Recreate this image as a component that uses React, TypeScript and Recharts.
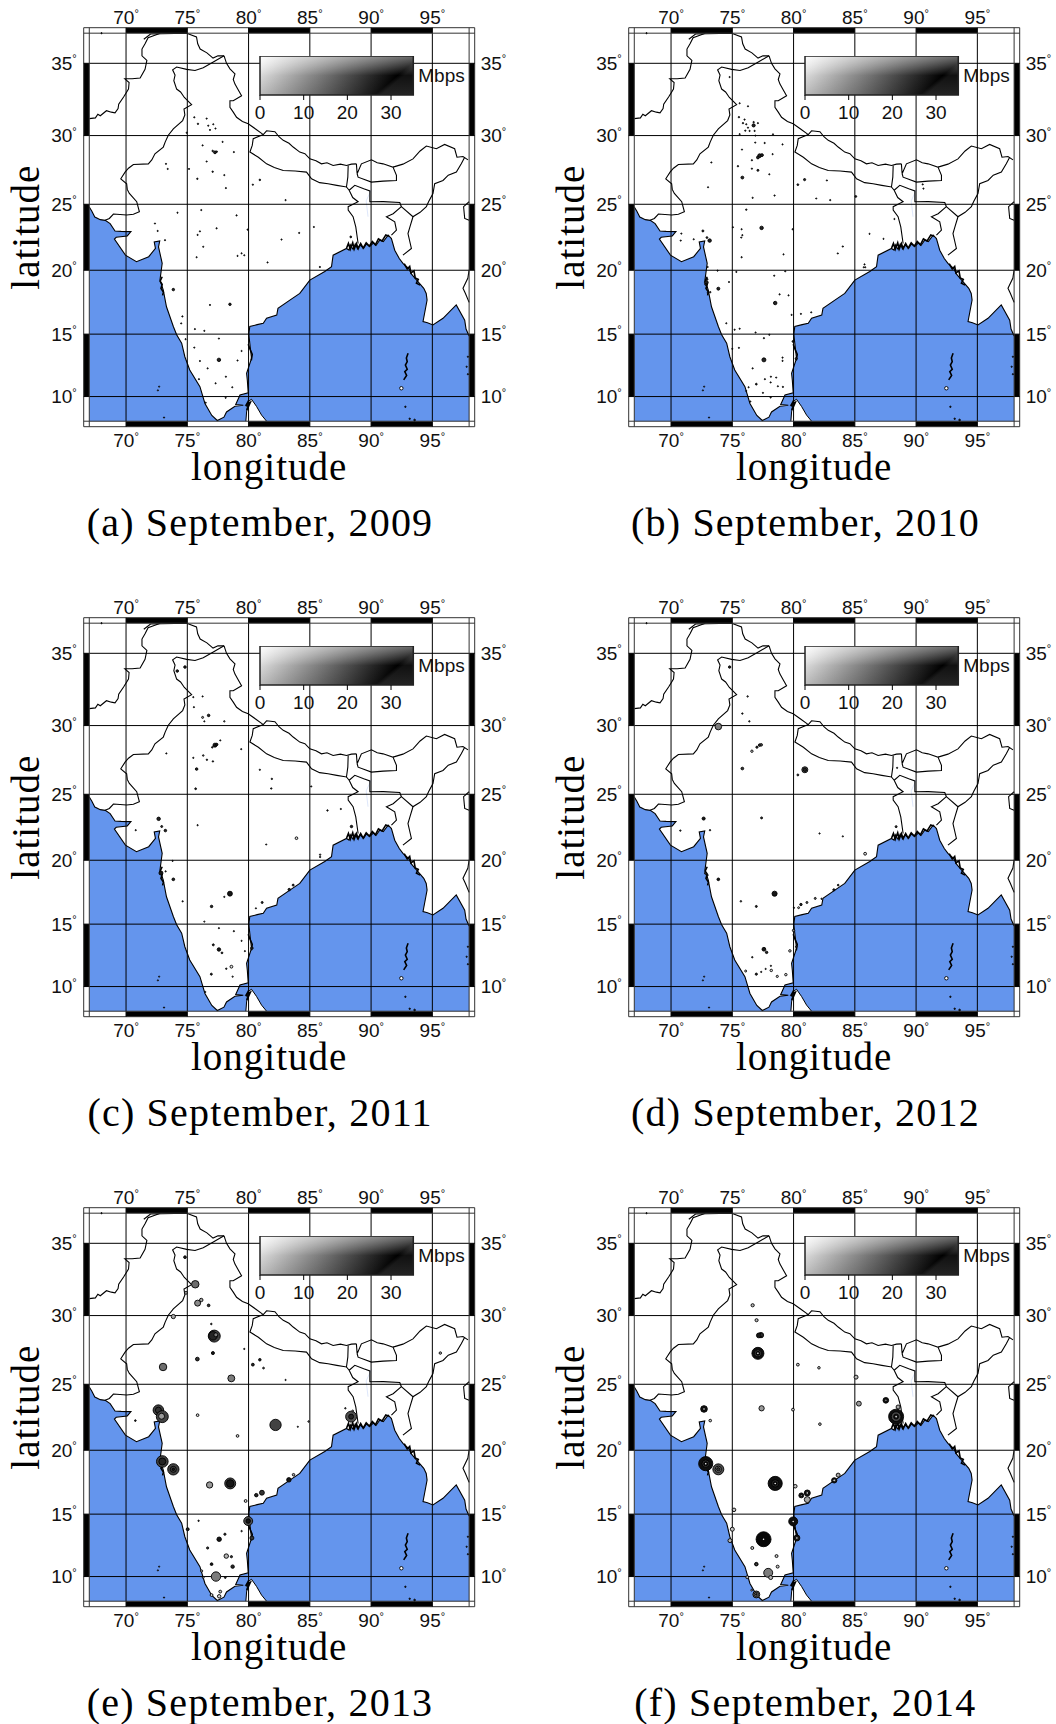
import React from 'react';
import {
  Area,
  ComposedChart,
  Line,
  ReferenceArea,
  ReferenceLine,
  Scatter,
  XAxis,
  YAxis
} from 'recharts';

type Pt = [number, number];
// lon, lat, tests, mean Mbps
type Site = [number, number, number, number];

const LON_TICKS = [70, 75, 80, 85, 90, 95];
const LAT_TICKS = [10, 15, 20, 25, 30, 35];
const LON_BLACK = [[70, 75], [80, 85], [90, 95]];
const LAT_BLACK = [[10, 15], [20, 25], [30, 35]];
const MBPS_TICKS = [0, 10, 20, 30];
const MBPS_RANGE = [{ mbps: 0, v: 0 }, { mbps: 35, v: 1 }];
const CAPTIONS = [
  '(a) September, 2009',
  '(b) September, 2010',
  '(c) September, 2011',
  '(d) September, 2012',
  '(e) September, 2013',
  '(f) September, 2014'
];

// west coast, round the cape, east coast up to Burma
const coast: Pt[] = [
  [67, 24.8], [67.2, 24.5], [67.45, 24.05], [67.9, 23.85], [68.3, 23.8], [68.7, 23.55], [69.1, 23.0], [69.6, 22.97], [70.4, 22.95],
  [70.1, 22.62], [69.2, 22.52], [69.05, 22.38], [69.95, 21.16], [70.85, 20.66], [71.85, 21.04], [72.4, 21.67], [72.3, 22.17],
  [72.75, 22.25], [72.65, 21.79], [72.95, 20.53], [72.77, 19.25], [73.04, 18.46], [73.3, 17.16], [73.86, 15.6], [74.13, 14.95],
  [74.54, 14.28], [74.8, 13.2], [75.2, 12.14], [76.03, 10.8], [76.44, 9.44], [77, 8.47], [77.45, 8.06], [77.99, 8.33],
  [78.2, 8.75], [78.89, 9.22], [79.57, 9.3], [78.95, 9.35], [79.3, 10.13], [79.97, 10.3], [79.9, 11.3], [79.84, 11.87],
  [80.24, 13.07], [80.1, 14.28], [80.02, 15], [80.1, 15.6], [80.7, 15.75], [81.2, 15.86], [81.47, 16.25], [82.3, 16.5], [82.4, 17.03],
  [83.37, 17.68], [84.18, 18.2], [85, 19.24], [86.22, 19.9], [86.77, 20.28], [86.9, 21.16], [87.99, 21.67], [88.2, 21.55],
  [88.3, 21.95], [88.53, 21.6], [88.7, 22], [88.9, 21.65], [89.08, 21.95], [89.4, 21.7], [89.6, 22], [89.9, 21.83],
  [90.2, 22.1], [90.4, 21.9], [90.7, 22.3], [91, 22.2], [91.39, 22.68], [91.66, 22.42], [91.93, 21.54], [92.3, 20.9],
  [92.6, 20.53], [93.1, 20.1], [93.3, 19.7], [93.7, 19.25], [94.3, 18.6], [94.5, 18.2], [94.57, 17.68], [94.24, 16],
  [94.6, 15.9], [95.05, 15.73], [95.87, 16.25], [96.95, 17.3], [97.64, 16.1], [97.75, 15.4], [98, 14.85]
];
const seaCorners: Pt[] = [[67, 8], [67, 24.8]];
const seaEnd: Pt[] = [[98, 14.85], [98, 8]];
const sriLanka: Pt[] = [[79.78, 8], [79.84, 8.75], [79.97, 9.6], [80.24, 9.78], [80.65, 9.2], [81.06, 8.5], [81.47, 8]];
const andaman: Pt[] = [[93.02, 13.48], [92.88, 13.1], [92.95, 12.8], [92.8, 12.54], [92.95, 12.2], [92.75, 12], [92.9, 11.7], [92.66, 11.34]];
// the ragged bits of shore that read as heavy black in the maps
const raggedShore: Pt[][] = [
  [[88, 21.7], [88.15, 22.05], [88.3, 21.6], [88.5, 22.1], [88.62, 21.62], [88.8, 22.05], [88.95, 21.65], [89.15, 22.05], [89.35, 21.7], [89.6, 22.1], [89.85, 21.85], [90.1, 22.2], [90.35, 21.95], [90.6, 22.4], [90.9, 22.25], [91.2, 22.7], [91.45, 22.6]],
  [[92.7, 20.5], [92.95, 20.1], [93.15, 20.3], [93.25, 19.8], [93.5, 19.95], [93.6, 19.4], [93.85, 19.3], [93.7, 19], [94, 18.85]],
  [[72.95, 19.5], [72.78, 19.15], [72.95, 18.9], [72.85, 18.6], [73.05, 18.3], [72.98, 18.05]],
  [[79.8, 9.2], [80, 9.65], [79.85, 9.4], [80.15, 9.55], [79.95, 9.1], [79.85, 8.9]],
  [[79.97, 14.2], [80.12, 13.8], [80.3, 13.4], [80.22, 12.9]]
];
const islets: Site[] = [
  [92.47, 10.67, 3, 0], [92.8, 9.17, 0.5, 30], [93.15, 8.2, 0.5, 30], [93.55, 8.1, 0.7, 30], [73.1, 8.3, 0.3, 30],
  [72.7, 10.8, 0.1, 20], [72.6, 10.5, 0.1, 20], [97.8, 12.4, 0.2, 30], [97.9, 11.8, 0.2, 30], [97.9, 13.2, 0.2, 30], [68, 37, 0.3, 30]
];

const borders: Pt[][] = [
  // afghanistan side and the north
  [[67, 31.2], [67.5, 31.25], [67.7, 31.5], [67.9, 31.4], [68.4, 31.75], [68.8, 31.65], [69.1, 31.6], [69.35, 31.9], [69.4, 32.2], [69.8, 32.7], [70.2, 33.25], [70.25, 33.7], [69.9, 33.95], [70.5, 33.95], [71.15, 34], [71.55, 34.6], [71.7, 35.2], [71.3, 35.5], [71.3, 35.95], [71.55, 36.3], [71.8, 36.7], [72.8, 37]],
  [[71.45, 36.6], [72, 36.95], [74.95, 37], [75.75, 36.75], [75.85, 36.3], [76.05, 35.95], [76.6, 35.7], [77.1, 35.35], [77.5, 35.5], [78, 35.5]],
  // india - pakistan
  [[78, 35.5], [77.12, 35.09], [76.3, 34.7], [75.63, 34.52], [74.95, 34.59], [74.13, 34.75], [73.8, 34.56], [74, 34.2], [73.9, 33.82], [74.13, 33.25], [74.45, 33.05], [74.76, 32.67], [75.35, 32.17], [74.73, 31.87], [74.8, 31.45], [74.62, 31.06], [73.86, 30.48], [73.45, 30.02], [73.2, 29.55], [73.04, 29.18], [72.36, 28.7], [72.1, 28.25], [71.82, 27.97], [70.6, 27.92], [70.2, 27.65], [69.92, 27.37], [69.57, 26.88], [70.05, 26.52], [70.1, 26.1], [70.27, 25.8], [70.87, 25.19], [71.09, 24.44], [70.6, 24.25], [70.05, 24.2], [68.97, 24.27], [68.64, 23.94], [68.29, 23.8]],
  // tibet side to sikkim
  [[78, 35.5], [78.2, 35], [78.48, 34.63], [78.89, 34.29], [78.75, 33.9], [78.89, 33.59], [79.15, 33.2], [79.43, 32.79], [78.75, 32.44], [78.48, 32.44], [78.48, 31.98], [78.75, 31.65], [79.02, 31.29], [79.5, 31], [79.97, 30.83], [80.6, 30.45], [81.2, 30.07], [81.47, 30.34], [82.15, 30.27], [82.5, 29.9], [82.83, 29.66], [83.3, 29.45], [83.64, 29.18], [84.18, 28.82], [84.6, 28.7], [85, 28.33], [85.5, 28.2], [85.95, 27.97], [86.4, 28.05], [86.9, 27.85], [87.5, 27.95], [87.99, 27.85], [88.4, 27.95], [88.8, 27.97]],
  // nepal south
  [[81.2, 30.07], [80.38, 29.78], [80.3, 29.3], [80.11, 28.82], [80.8, 28.45], [81.47, 27.97], [82.1, 27.7], [82.83, 27.49], [83.8, 27.45], [84.73, 27.37], [85.14, 26.88], [85.8, 26.6], [86.49, 26.52], [87.2, 26.4], [87.99, 26.28], [88.1, 27], [88.13, 27.85]],
  // bhutan
  [[88.8, 27.97], [88.86, 27.25], [89.21, 27.97], [90.03, 28.26], [90.5, 28.05], [90.98, 27.97], [91.79, 27.73], [92.07, 27.13], [92.07, 26.76], [90.98, 26.71], [90.03, 26.64], [88.94, 27], [88.86, 27.25]],
  // north east
  [[91.79, 27.73], [92.6, 27.95], [93.42, 28.33], [94, 28.9], [94.51, 29.25], [95.33, 29.06], [96, 29.37], [96.82, 29.06], [97.01, 28.45], [97.5, 28.5], [97.91, 28.26]],
  [[97.64, 28.45], [97.36, 27.97], [96.96, 27.37], [96.3, 27.15], [95.87, 26.76], [95.19, 26.52], [95.05, 25.8], [94.7, 25.2], [94.51, 24.82], [94, 24.4], [93.42, 24.07], [93.2, 23.4], [93.01, 22.8], [93.29, 21.67], [92.6, 21.16]],
  // bangladesh
  [[88.94, 22.05], [88.75, 23.31], [88.53, 24.07], [88.13, 24.57], [88.13, 24.82], [88.94, 25.19], [88.5, 25.5], [88.21, 26.04], [87.99, 26.28]],
  [[88.21, 26.04], [88.67, 26.4], [89.4, 26.15], [89.9, 25.99], [89.9, 25.19], [91, 25.2], [92.34, 25.13], [92.47, 24.82], [91.8, 24.3], [91.25, 24.07], [91.93, 23.69], [92.07, 23.06], [91.66, 22.68]],
  [[92.47, 24.82], [93.42, 24.07]],
  // burma east edge
  [[98, 25.19], [97.55, 24.82], [97.64, 23.94], [98, 23.81]],
  [[98, 20.03], [97.9, 19.4], [97.5, 18.6], [97.7, 18.2], [98, 17.5]]
];
const river: Pt[] = [[90.03, 26.1], [89.6, 25.25], [89.75, 24.07]];

const sites2009: Site[] = [
  [75.57, 31.29, 0.4, 30], [75.87, 30.83, 0.5, 30], [76.58, 31.2, 0.3, 30], [76.71, 30.7, 0.3, 30], [77.12, 30.8, 0.3, 30],
  [76.85, 30.4, 0.1, 30], [77.3, 30.5, 0.1, 30], [74.95, 30.2, 0.2, 30], [76.25, 29.3, 0.2, 30], [77.88, 29.55, 0.2, 30],
  [77.26, 28.8, 2, 30], [77.07, 28.9, 0.6, 30], [77.4, 28.85, 0.6, 30], [78.8, 28.82, 0.3, 30], [76.58, 28.14, 0.2, 30],
  [77.07, 27.4, 0.5, 30], [78.02, 27.15, 0.3, 30], [73.26, 27.97, 0.2, 30], [73.4, 27.6, 0.2, 30], [75.14, 27.6, 0.1, 30],
  [75.82, 26.88, 0.5, 30], [78.15, 26.2, 0.2, 30], [80.92, 26.8, 0.6, 30], [80.35, 26.45, 0.4, 30], [83.02, 25.31, 0.4, 30],
  [76.14, 24.57, 0.2, 30], [74.2, 24.37, 0.1, 30], [79.02, 24.17, 0.4, 30], [72.36, 23.56, 0.1, 30], [72.58, 23, 0.2, 30],
  [73.18, 22.3, 0.2, 30], [76.03, 22.97, 0.2, 30], [75.84, 22.7, 0.3, 30], [77.39, 23.2, 0.4, 30], [79.92, 23.1, 0.1, 30],
  [84.13, 22.85, 0.2, 30], [85.33, 23.3, 0.2, 30], [82.69, 22.35, 0.1, 30], [88.34, 22.55, 0.8, 30], [76.3, 21.8, 0.3, 30],
  [75.76, 21, 0.2, 30], [79.1, 21.1, 0.2, 30], [79.43, 21.3, 0.2, 30], [79.65, 21.15, 0.1, 30], [81.55, 20.6, 0.2, 30],
  [85.82, 20.25, 0.4, 30], [73.86, 18.5, 1.5, 30], [78.48, 17.35, 1.5, 30], [76.85, 17.3, 0.1, 30], [74.6, 16.4, 0.4, 30],
  [74.5, 15.85, 0.2, 30], [75.62, 15.4, 0.3, 30], [76.39, 15.26, 0.2, 30], [77.58, 14.65, 0.1, 30], [74.86, 14.6, 0.1, 30],
  [75.57, 13.93, 0.2, 30], [79.43, 13.66, 0.2, 30], [79.1, 12.9, 0.3, 30], [76.03, 12.86, 0.2, 30], [77.58, 12.95, 3, 30],
  [76.66, 12.27, 0.3, 30], [78.15, 11.6, 0.2, 30], [77.31, 11.07, 0.3, 30], [78.67, 10.75, 0.3, 30], [78.13, 9.9, 0.2, 30],
  [75.95, 11.4, 0.1, 30], [76.5, 9.5, 0.1, 30]
];

const sites2010: Site[] = [
  [74.78, 34.07, 0.3, 30], [75.6, 32.27, 0.3, 30], [76.28, 32.06, 0.3, 30], [75.54, 31.3, 0.5, 30], [76, 31.13, 0.4, 30],
  [75.87, 30.88, 0.5, 30], [76.14, 30.8, 0.4, 30], [76.74, 30.72, 2.5, 30], [76.28, 30.56, 0.3, 30], [76.06, 30.35, 0.4, 30],
  [76.41, 30.33, 0.4, 30], [76.82, 30.33, 0.4, 30], [77.09, 30.88, 0.3, 30], [76.74, 30.95, 0.5, 30], [75.6, 30.1, 0.2, 30],
  [76.88, 30, 0.2, 30], [78.32, 30.09, 0.3, 30], [76.87, 29.5, 0.3, 30], [77.64, 29.47, 0.4, 30], [79.1, 29.37, 0.3, 30],
  [75.79, 29, 0.3, 30], [77.23, 28.56, 3.5, 30], [77.09, 28.43, 2, 30], [77.42, 28.6, 2, 30], [78.29, 28.67, 0.3, 30],
  [76.6, 28.23, 0.4, 30], [73.29, 28.07, 0.3, 30], [75.46, 27.8, 0.5, 30], [76.6, 27.62, 0.4, 30], [77.09, 27.5, 1, 30],
  [78.02, 27.21, 0.3, 30], [75.82, 26.97, 2, 30], [73.02, 26.26, 0.3, 30], [80.9, 26.82, 1.2, 30], [80.35, 26.45, 0.8, 30],
  [82.72, 26.76, 0.3, 30], [76.66, 25.48, 0.4, 30], [78.45, 25.65, 0.4, 30], [81.85, 25.43, 0.3, 30], [82.99, 25.31, 0.4, 30],
  [85.08, 25.58, 0.8, 30], [76.14, 24.6, 0.5, 30], [88.23, 23.9, 0.3, 30], [75.05, 23.28, 0.2, 30], [75.76, 23.13, 0.3, 30],
  [77.39, 23.23, 3, 30], [79.92, 23.13, 0.2, 30], [75.82, 22.68, 0.3, 30], [75.73, 22.5, 0.3, 30], [72.6, 23, 1, 30],
  [70.84, 22.8, 0.2, 30], [70.79, 22.27, 0.2, 30], [71.85, 22.37, 0.2, 30], [72.93, 22.5, 0.8, 30], [73.15, 22.27, 3, 30],
  [86.2, 22.78, 0.3, 30], [87.34, 22.4, 0.3, 30], [84.02, 21.82, 0.4, 30], [83.61, 21.29, 0.3, 30], [79.18, 21.22, 0.3, 30],
  [75.76, 21, 0.4, 30], [85.79, 20.45, 0.3, 30], [85.73, 20.23, 0.3, 30], [85.85, 20.23, 0.3, 30], [72.99, 20.25, 0.3, 30],
  [73.8, 19.97, 0.2, 30], [75.33, 19.87, 0.3, 30], [79.32, 19.92, 0.1, 30], [78.42, 19.58, 0.3, 30], [72.88, 19.05, 3.5, 30],
  [72.93, 19.3, 1, 30], [72.83, 18.9, 1, 30], [74.73, 19.09, 0.3, 30], [73.86, 18.57, 2.2, 30], [73.2, 18.3, 0.5, 30],
  [73, 18.25, 0.4, 30], [78.86, 18.13, 0.4, 30], [79.59, 18.05, 0.3, 30], [78.5, 17.45, 3, 30], [79.84, 16.52, 0.2, 30],
  [80.6, 16.6, 0.2, 30], [81.44, 16.72, 0.2, 30], [74.51, 15.86, 0.3, 30], [75.19, 15.35, 0.3, 30], [75.6, 15.43, 0.3, 30],
  [76.9, 15.13, 0.3, 30], [78.02, 14.95, 0.2, 30], [77.58, 14.68, 0.4, 30], [79.95, 14.42, 0.8, 30], [75.54, 13.91, 0.2, 30],
  [75, 13.83, 0.1, 30], [77.58, 12.95, 4, 30], [79.1, 13.13, 0.4, 30], [79.1, 12.87, 0.4, 30], [80.22, 13.05, 1.2, 30],
  [76.66, 12.27, 0.4, 30], [77.66, 11.4, 0.3, 30], [78.15, 11.6, 0.3, 30], [78.58, 11.53, 0.3, 30], [76.96, 11, 0.8, 30],
  [78.13, 11.14, 0.3, 30], [78.72, 10.83, 0.3, 30], [79.13, 10.78, 0.4, 30], [76.33, 10.75, 0.2, 30], [76.14, 10.45, 0.2, 30],
  [77.5, 10.3, 0.2, 30], [78.13, 9.92, 0.2, 30], [76.47, 9.6, 0.1, 30], [90.54, 26.47, 0.2, 30], [90.6, 26.16, 0.2, 30]
];

const sites2011: Site[] = [
  [74.81, 34.07, 1.6, 30], [74.18, 33.8, 1.6, 30], [75.49, 32, 0.2, 30], [76.25, 32.05, 0.3, 30], [75.54, 31.3, 0.3, 30],
  [76.74, 30.72, 1.6, 30], [76.25, 30.58, 1, 12], [76.39, 30.3, 0.3, 30], [78.02, 30.3, 0.5, 20], [77.26, 28.6, 4, 32],
  [77.4, 28.65, 1.5, 32], [77.04, 28.44, 0.6, 30], [77.69, 28.94, 0.3, 30], [79.4, 28.31, 0.3, 30], [73.29, 28, 0.3, 30],
  [75.49, 27.68, 0.4, 30], [76.3, 27.85, 0.6, 20], [76.6, 27.54, 0.5, 30], [77.09, 27.42, 0.5, 30], [75.76, 26.86, 1.6, 30],
  [80.92, 26.81, 0.4, 30], [81.9, 26.14, 0.5, 30], [81.85, 25.43, 0.5, 30], [75.68, 25.41, 0.8, 30], [85.11, 25.58, 0.4, 30],
  [86.44, 23.79, 0.5, 30], [87.53, 23.9, 0.4, 20], [75.84, 22.68, 0.4, 30], [70.79, 22.3, 0.3, 30], [72.66, 23.16, 3, 30],
  [72.91, 22.58, 1, 28], [73.21, 22.27, 1.6, 30], [83.91, 21.69, 1.8, 5], [81.44, 21.21, 0.3, 30], [88.4, 22.58, 1.5, 30],
  [85.84, 20.43, 0.5, 20], [85.84, 20.25, 0.5, 20], [73.8, 19.95, 0.2, 30], [72.85, 19.01, 4, 32], [73.23, 19.14, 0.4, 30],
  [73.86, 18.52, 1.8, 30], [78.48, 17.4, 6, 32], [78.02, 17.15, 0.4, 30], [74.62, 16.8, 0.4, 30], [76.98, 16.4, 1.5, 30],
  [81.11, 16.71, 1, 30], [80.6, 16.25, 0.3, 30], [83.32, 17.72, 1.5, 30], [83.64, 18.07, 1, 30], [76.39, 15.2, 0.3, 20],
  [77.58, 14.68, 0.3, 30], [78.8, 14.44, 0.4, 30], [79.43, 13.67, 0.3, 30], [80.27, 13.09, 1.6, 30], [77.12, 13.35, 1, 30],
  [77.58, 12.98, 3, 32], [77.83, 12.71, 0.8, 30], [79.7, 12.85, 0.3, 30], [78.6, 11.6, 2, 4], [78.18, 11.44, 0.5, 30],
  [76.96, 11, 1, 30], [78.7, 10.8, 0.4, 20], [76.47, 9.56, 0.3, 20]
];

const sites2012: Site[] = [
  [74.78, 34.07, 1.4, 30], [76.25, 32.05, 0.5, 20], [75.82, 30.85, 0.5, 28], [76.39, 30.3, 0.5, 28], [73.86, 29.93, 11, 18],
  [77.23, 28.6, 1.6, 28], [77.36, 28.62, 1.6, 24], [77.01, 28.45, 1.2, 28], [76.6, 28.16, 1.4, 6], [75.82, 26.9, 1.8, 28],
  [80.92, 26.81, 9, 22], [80.92, 26.81, 3, 30], [80.35, 26.43, 0.9, 24], [77.39, 23.23, 1, 28], [72.66, 23.18, 2.4, 32],
  [70.76, 22.27, 0.5, 28], [73.18, 22.3, 0.5, 24], [82.12, 22.05, 0.4, 24], [84.02, 21.83, 0.4, 24], [85.84, 20.5, 2, 5],
  [88.37, 22.57, 1, 28], [88.45, 26.95, 0.4, 24], [73.86, 18.52, 1.8, 32], [72.83, 19, 1.4, 28], [72.95, 18.85, 1, 28],
  [78.45, 17.4, 6.5, 32], [76.96, 16.4, 1, 30], [75.7, 16.8, 0.6, 20], [80.03, 16.29, 0.4, 28], [80.41, 16.3, 0.9, 8],
  [80.6, 16.55, 1.4, 30], [81.09, 16.71, 1, 20], [81.77, 17.03, 1, 20], [82.28, 17, 0.4, 28], [83.29, 17.7, 1.2, 30],
  [83.64, 18.07, 0.7, 28], [80, 14.5, 1.5, 16], [80.22, 13.2, 0.7, 24], [79.7, 12.87, 1.5, 5], [77.58, 13, 3.5, 32],
  [77.8, 12.75, 1.5, 30], [76.63, 12.36, 0.5, 28], [79.37, 10.96, 1.5, 5], [78.67, 10.82, 1.2, 6], [78.15, 11.67, 0.4, 24],
  [78.18, 11.3, 1.5, 5], [77.72, 11.42, 0.4, 24], [77.36, 11.18, 0.4, 24], [76.96, 11, 1.2, 30], [76.09, 11.25, 1, 5]
];

const sites2013: Site[] = [
  [74.81, 34.06, 1.8, 30], [75.65, 32.2, 14, 20], [74.89, 31.6, 2, 10], [76.14, 31.1, 3, 12], [75.84, 30.88, 9, 16],
  [76.74, 30.72, 1.8, 28], [73.86, 29.93, 4.5, 12], [76.96, 29.4, 0.6, 28], [77.2, 28.53, 36, 26], [77.1, 28.55, 18, 30],
  [77.33, 28.62, 4, 18], [77.09, 27.3, 2.4, 32], [75.82, 26.86, 3.5, 28], [79.65, 27.6, 0.4, 28], [80.92, 26.81, 1.6, 30],
  [80.35, 26.45, 2, 30], [81.22, 26.2, 0.8, 22], [73.02, 26.28, 14, 20], [78.59, 25.44, 12, 18], [83.02, 25.32, 0.4, 24],
  [75.84, 22.68, 1.8, 6], [72.64, 23.06, 28, 26], [72.64, 23.06, 9, 28], [72.96, 22.57, 36, 26], [72.9, 22.6, 9, 14],
  [70.76, 22.27, 0.7, 30], [82.2, 21.94, 32, 26], [84.02, 21.8, 0.3, 28], [84.9, 22.2, 0.6, 18], [79.1, 21.1, 1.8, 6],
  [88.37, 22.57, 30, 24], [88.37, 22.57, 6, 30], [87.9, 23.2, 0.5, 24], [88.5, 23, 0.8, 10], [95.65, 27.3, 1.5, 10],
  [72.96, 19.13, 34, 26], [72.96, 19.13, 12, 30], [73.86, 18.52, 32, 26], [73.86, 18.52, 9, 26], [73.86, 18.52, 1.5, 32],
  [76.82, 17.3, 10, 14], [78.5, 17.42, 30, 26], [78.5, 17.42, 14, 32], [83.29, 17.7, 5, 32], [83.67, 18.1, 1.6, 12],
  [80.63, 16.5, 3, 30], [81.09, 16.69, 6, 28], [79.76, 16.04, 2, 6], [79.97, 14.45, 20, 24], [79.97, 14.45, 5, 32],
  [75.92, 14.47, 0.5, 28], [75.03, 13.8, 2.2, 30], [80.27, 13.1, 4, 28], [79.43, 13.65, 0.5, 24], [78.07, 13.4, 1.2, 28],
  [77.6, 13, 5, 32], [76.66, 12.3, 1.2, 28], [78.18, 11.65, 5, 10], [78.6, 11.6, 1.2, 28], [76.98, 11, 1.8, 32],
  [78.7, 10.8, 3, 30], [76.17, 10.45, 1.2, 8], [77.34, 10, 22, 18], [78.1, 9.92, 0.8, 28], [76.3, 9.92, 0.8, 8],
  [76.98, 8.5, 2, 6], [77.69, 8.78, 2, 8], [77.6, 8.4, 3, 6]
];

const sites2014: Site[] = [
  [76.66, 30.73, 2.6, 10], [76.98, 29.67, 2.4, 10], [77.34, 28.6, 7, 28], [77.34, 28.6, 2, 6], [77.17, 28.58, 6, 32],
  [77.09, 27.28, 36, 33], [77.09, 27.28, 12, 24], [77.09, 27.28, 4, 33], [77.09, 27.28, 0.6, 0], [80.35, 26.45, 2, 8],
  [82.07, 26.22, 1.6, 8], [85.1, 25.53, 4, 10], [87.53, 23.8, 8, 32], [87.53, 23.8, 2, 20], [88.53, 23.3, 4, 12],
  [88.37, 22.57, 56, 33], [88.37, 22.57, 24, 26], [88.37, 22.57, 6, 33], [88.37, 22.57, 0.6, 0], [85.33, 23.55, 6, 14],
  [77.39, 23.2, 7, 14], [79.95, 23.1, 2, 8], [72.69, 23.15, 11, 32], [72.69, 23.15, 3, 20], [73.2, 22.27, 1.7, 8],
  [82.15, 22, 1.7, 8], [72.83, 18.96, 50, 33], [72.83, 18.96, 14, 28], [72.83, 18.96, 4, 33], [72.83, 18.96, 0.6, 0],
  [73.86, 18.52, 30, 24], [73.86, 18.52, 10, 16], [73.86, 18.52, 3, 28], [78.5, 17.42, 50, 33], [78.5, 17.42, 14, 30],
  [78.5, 17.42, 3, 33], [78.5, 17.42, 0.6, 0], [80.14, 17.2, 3.2, 8], [83.32, 17.66, 7, 32], [83.32, 17.66, 2, 8],
  [83.64, 18.07, 4, 12], [80.63, 16.48, 6, 33], [80.63, 16.48, 1, 14], [81.12, 16.67, 9, 32], [81.12, 16.67, 2, 10],
  [81.12, 16.15, 9, 12], [75.14, 15.34, 3.2, 8], [79.97, 14.42, 20, 33], [79.97, 14.42, 0.6, 0], [75, 13.8, 4, 8],
  [80.27, 13.1, 9, 32], [80.27, 13.1, 0.6, 0], [77.55, 13, 56, 34], [77.55, 13, 0.6, 0], [74.81, 12.89, 4, 10],
  [76.63, 12.3, 2.2, 8], [78.61, 11.65, 2.2, 8], [76.96, 11, 3.2, 30], [76.96, 11, 0.7, 8], [78.7, 10.8, 2.2, 8],
  [77.93, 10.3, 20, 18], [78.13, 9.92, 4, 10], [76.22, 9.95, 2.2, 10], [76.96, 8.55, 12, 22], [76.96, 8.55, 4, 8],
  [76.96, 8.55, 0.8, 30], [76.58, 8.9, 0.8, 8]
];

const SITES = [sites2009, sites2010, sites2011, sites2012, sites2013, sites2014];

// Mercator northing in degrees, the maps are drawn in this projection
const merc = (lat: number) => (Math.log(Math.tan(Math.PI / 4 + (lat * Math.PI) / 360)) * 180) / Math.PI;
const toRows = (pts: Pt[]) => pts.map(([lon, lat]) => ({ lon, y: merc(lat) }));
const toSites = (pts: Site[]) => pts.map(([lon, lat, tests, mbps]) => ({ lon, y: merc(lat), tests, mbps }));

const grey = (mbps: number) => {
  const v = Math.round(255 * (1 - Math.min(mbps, 35) / 35));
  return `rgb(${v},${v},${v})`;
};

const SiteDot = (p: any) => {
  const { tests, mbps } = p.payload;
  // the white speck in the middle of the fastest rings has no outline
  const speck = mbps === 0 && tests < 1;
  return (
    <circle
      cx={p.cx}
      cy={p.cy}
      r={Math.max(Math.sqrt(tests), 0.6)}
      fill={grey(mbps)}
      stroke={speck ? 'none' : '#000'}
      strokeWidth={0.9}
    />
  );
};

const LON_MIN = 66.544;
const LON_MAX = 98.456;
const Y8 = merc(8);
const Y37 = merc(37);
const Y_MIN = Y8 - 0.45;
const Y_MAX = Y37 + 0.45;
const FRAME = '#333';
const SANS = '"Liberation Sans", Arial, sans-serif';
const SERIF = '"Liberation Serif", serif';
const tickStyle = { fontFamily: SANS, fontSize: 19, fill: '#111' };
const titleStyle = { fontFamily: SERIF, fontSize: 39, letterSpacing: 1, fill: '#000' };

const latValue = (v: number) => LAT_TICKS.find((t) => Math.abs(merc(t) - v) < 0.01);

// digits with the small raised ring that the map frame uses
const DegreeTick = ({ x, y, textAnchor, payload, lat, dx = 0, dy = 0 }: any) => (
  <text x={x + dx} y={y + dy} textAnchor={textAnchor} dominantBaseline="central" fontFamily={SANS} fontSize={19} fill="#111">
    {lat ? latValue(payload.value) : payload.value}
    <tspan fontSize={11} dy={-5}>°</tspan>
  </text>
);

const seaRows = toRows([...seaCorners, ...coast, ...seaEnd]);
const coastRows = toRows(coast);
const lankaRows = toRows(sriLanka);
const andamanRows = toRows(andaman);
const riverRows = toRows(river);
const borderRows = borders.map(toRows);
const raggedRows = raggedShore.map(toRows);
const isletRows = toSites(islets);
const ids = { xAxisId: 'bottom', yAxisId: 'left' };

const ColorBar = ({ id }: { id: string }) => (
  <div style={{ position: 'absolute', left: 250, top: 56 }}>
    <ComposedChart width={220} height={75} data={MBPS_RANGE} margin={{ top: 0, right: 56.7, bottom: 0, left: 10 }}>
      <defs>
        <linearGradient id={`bar-${id}`} x1="0" y1="0" x2="1" y2="0.3">
          <stop offset="0%" stopColor="#fff" />
          <stop offset="96%" stopColor="#000" />
          <stop offset="100%" stopColor="#111" />
        </linearGradient>
        <linearGradient id={`shine-${id}`} x1="0" y1="0" x2="0" y2="1">
          <stop offset="0%" stopColor="#fff" stopOpacity={0.4} />
          <stop offset="50%" stopColor="#fff" stopOpacity={0} />
          <stop offset="100%" stopColor="#fff" stopOpacity={0.08} />
        </linearGradient>
      </defs>
      <XAxis
        type="number"
        dataKey="mbps"
        domain={[0, 35.1]}
        ticks={MBPS_TICKS}
        interval={0}
        height={36}
        axisLine={false}
        tickSize={5}
        tickLine={{ stroke: '#000' }}
        tick={tickStyle}
        tickMargin={6}
      />
      <YAxis type="number" domain={[0, 1]} hide width={0} />
      <Line dataKey="v" stroke="none" dot={false} activeDot={false} isAnimationActive={false} />
      <ReferenceArea x1={0} x2={35.1} y1={0} y2={1} fill={`url(#bar-${id})`} fillOpacity={1} />
      <ReferenceArea
        x1={0}
        x2={35.1}
        y1={0}
        y2={1}
        fill={`url(#shine-${id})`}
        fillOpacity={1}
        stroke="#222"
        strokeWidth={1.5}
        label={{ value: 'Mbps', position: 'right', offset: 5, style: tickStyle }}
      />
    </ComposedChart>
  </div>
);

const Panel = ({ index }: { index: number }) => {
  const id = String(index);
  const rows = toSites(SITES[index]);
  return (
    <div
      style={{
        position: 'absolute',
        left: index % 2 === 0 ? 0 : 545.4,
        top: Math.floor(index / 2) * 590,
        width: 510,
        height: 560
      }}
    >
      <ComposedChart width={510} height={500} margin={{ top: 0, right: 0, bottom: 0, left: 0 }}>
        <XAxis
          xAxisId="bottom"
          type="number"
          dataKey="lon"
          domain={[LON_MIN, LON_MAX]}
          allowDataOverflow
          ticks={LON_TICKS}
          interval={0}
          height={73.3}
          axisLine={false}
          tickLine={false}
          tickMargin={0}
          tick={<DegreeTick dy={8} />}
          label={{ value: 'longitude', position: 'insideBottom', offset: 20, style: titleStyle, dx: -10 }}
        />
        <XAxis
          xAxisId="top"
          orientation="top"
          type="number"
          dataKey="lon"
          domain={[LON_MIN, LON_MAX]}
          allowDataOverflow
          ticks={LON_TICKS}
          interval={0}
          height={27.7}
          axisLine={false}
          tickLine={false}
          tickMargin={0}
          tick={<DegreeTick dy={-4} />}
        />
        <YAxis
          yAxisId="left"
          type="number"
          dataKey="y"
          domain={[Y_MIN, Y_MAX]}
          allowDataOverflow
          ticks={LAT_TICKS.map(merc)}
          interval={0}
          width={83.7}
          axisLine={false}
          tickLine={false}
          tickMargin={0}
          tick={<DegreeTick lat dx={-1} />}
          label={{ value: 'latitude', angle: -90, position: 'insideLeft', offset: 25, style: { ...titleStyle, textAnchor: 'middle' } }}
        />
        <YAxis
          yAxisId="right"
          orientation="right"
          type="number"
          dataKey="y"
          domain={[Y_MIN, Y_MAX]}
          allowDataOverflow
          ticks={LAT_TICKS.map(merc)}
          interval={0}
          width={35.3}
          axisLine={false}
          tickLine={false}
          tickMargin={0}
          tick={<DegreeTick lat />}
        />

        <Area {...ids} data={seaRows} dataKey="y" baseValue={Y8} stroke="none" fill="#6495ed" fillOpacity={1} dot={false} activeDot={false} isAnimationActive={false} />
        <Area {...ids} data={lankaRows} dataKey="y" baseValue={Y8} stroke="#000" strokeWidth={1} fill="#fff" fillOpacity={1} dot={false} activeDot={false} isAnimationActive={false} />
        <Line {...ids} data={riverRows} dataKey="y" stroke="#dfe8fb" strokeWidth={1} dot={false} activeDot={false} isAnimationActive={false} />
        {borderRows.map((b, i) => (
          <Line key={`border-${i}`} {...ids} data={b} dataKey="y" stroke="#000" strokeWidth={1.1} dot={false} activeDot={false} isAnimationActive={false} />
        ))}
        <Line {...ids} data={coastRows} dataKey="y" stroke="#000" strokeWidth={1.1} dot={false} activeDot={false} isAnimationActive={false} />
        {raggedRows.map((b, i) => (
          <Line key={`ragged-${i}`} {...ids} data={b} dataKey="y" stroke="#000" strokeWidth={1.6} dot={false} activeDot={false} isAnimationActive={false} />
        ))}
        <Line {...ids} data={andamanRows} dataKey="y" stroke="#000" strokeWidth={1.6} dot={false} activeDot={false} isAnimationActive={false} />

        {LON_TICKS.map((v) => (
          <ReferenceLine key={`gx-${v}`} {...ids} x={v} stroke="#000" strokeWidth={1} />
        ))}
        {LAT_TICKS.map((v) => (
          <ReferenceLine key={`gy-${v}`} {...ids} y={merc(v)} stroke="#000" strokeWidth={1} />
        ))}

        {/* fancy map frame */}
        {LON_BLACK.map(([a, b]) => (
          <ReferenceArea key={`t-${a}`} {...ids} x1={a} x2={b} y1={Y37} y2={Y_MAX} fill="#000" fillOpacity={1} />
        ))}
        {LON_BLACK.map(([a, b]) => (
          <ReferenceArea key={`b-${a}`} {...ids} x1={a} x2={b} y1={Y_MIN} y2={Y8} fill="#000" fillOpacity={1} />
        ))}
        {LAT_BLACK.map(([a, b]) => (
          <ReferenceArea key={`l-${a}`} {...ids} x1={LON_MIN} x2={67} y1={merc(a)} y2={merc(b)} fill="#000" fillOpacity={1} />
        ))}
        {LAT_BLACK.map(([a, b]) => (
          <ReferenceArea key={`r-${a}`} {...ids} x1={98} x2={LON_MAX} y1={merc(a)} y2={merc(b)} fill="#000" fillOpacity={1} />
        ))}
        <ReferenceLine {...ids} x={67} stroke={FRAME} strokeWidth={1} />
        <ReferenceLine {...ids} x={98} stroke={FRAME} strokeWidth={1} />
        <ReferenceLine {...ids} y={Y8} stroke={FRAME} strokeWidth={1} />
        <ReferenceLine {...ids} y={Y37} stroke={FRAME} strokeWidth={1} />
        <ReferenceArea {...ids} x1={LON_MIN} x2={LON_MAX} y1={Y_MIN} y2={Y_MAX} fill="none" stroke={FRAME} strokeWidth={1} />

        <Scatter {...ids} data={isletRows} shape={SiteDot} isAnimationActive={false} />
        <Scatter {...ids} data={rows} shape={SiteDot} isAnimationActive={false} />
      </ComposedChart>
      <ColorBar id={id} />
      <div
        style={{
          position: 'absolute',
          left: 260,
          top: 500,
          transform: 'translateX(-50%)',
          whiteSpace: 'nowrap',
          fontFamily: SERIF,
          fontSize: 40,
          lineHeight: '46px',
          letterSpacing: 1.2,
          color: '#000'
        }}
      >
        {CAPTIONS[index]}
      </div>
    </div>
  );
};

export default function App() {
  return (
    <div style={{ position: 'absolute', left: 0, top: 0, width: 1056, height: 1724, overflow: 'hidden', background: '#fff' }}>
      {CAPTIONS.map((_, i) => (
        <Panel key={i} index={i} />
      ))}
    </div>
  );
}
